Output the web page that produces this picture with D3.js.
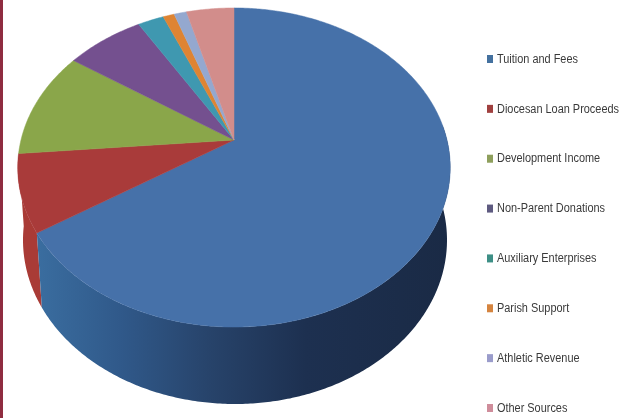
<!DOCTYPE html>
<html>
<head>
<meta charset="utf-8">
<script src="https://cdn.jsdelivr.net/npm/d3@7"></script>
<style>
  html, body { margin: 0; padding: 0; background: #fff; }
  svg { display: block; }
  .pie { filter: blur(0.5px); }
  .legend-text { font-family: "Liberation Sans", sans-serif; font-size: 13.5px; fill: #3a3a3a; filter: blur(0.45px); }
</style>
</head>
<body>
<div id="chart"></div>
<script>
var svgWidth = 633;
var svgHeight = 418;

// Estimated share of revenue (percent)
var categories = ["Tuition and Fees", "Diocesan Loan Proceeds", "Development Income", "Non-Parent Donations",
  "Auxiliary Enterprises", "Parish Support", "Athletic Revenue", "Other Sources"];
var shares = [65.9, 7.8, 10.9, 6.9, 2.3, 1.0, 1.1, 4.2];
var topColors = ["#4671a9", "#a93b3a", "#8aa64a", "#74508f", "#3f98b0", "#de8433", "#94a8cf", "#d28d8b"];
var legendColors = ["#44719f", "#a0403f", "#8e9f5c", "#5e5a80", "#3d8f86", "#d5843f", "#9a9ccb", "#cf8d9b"];

// Tilted disc: the apex sits above the ellipse centre because of perspective
var apex = { x: 234, y: 140 };
var radiusX = 213, persp = 0.1724, foreshort = 154.8;
var topEllipse = { cx: 234, cy: 167, rx: 216, ry: 160 };
var lowEllipse = { cx: 235, cy: 240, rx: 212, ry: 164 };

function project(angle) {
  var u = Math.sin(angle), v = -Math.cos(angle);
  var w = 1 - persp * v;
  return [apex.x + radiusX * u / w, apex.y + foreshort * v / w];
}

// same rim point on the lower edge of the wall
function projectLow(angle) {
  var p = project(angle);
  var t = Math.atan2((p[1] - topEllipse.cy) / topEllipse.ry, (p[0] - topEllipse.cx) / topEllipse.rx);
  return [lowEllipse.cx + lowEllipse.rx * Math.cos(t), lowEllipse.cy + lowEllipse.ry * Math.sin(t)];
}

var pie = d3.pie().sort(null).value(function(d) { return d; });
var arcs = pie(shares);
var line = d3.line();

function rim(start, end, fn) {
  return d3.range(start, end, 0.01).concat([end]).map(fn);
}

var svg = d3.select("#chart")
  .append("svg")
  .attr("width", svgWidth)
  .attr("height", svgHeight)
  .style("background", "#fff");

// red strip down the left edge of the page
svg.append("rect")
  .attr("width", 3)
  .attr("height", svgHeight)
  .attr("fill", "#8f2c40");

// Wall shading runs left to right across the disc
var defs = svg.append("defs");
var shade = defs.append("linearGradient")
  .attr("id", "blueWall")
  .attr("gradientUnits", "userSpaceOnUse")
  .attr("x1", 38).attr("x2", 450)
  .attr("y1", 0).attr("y2", 0);
[[0, "#3a6d9f"], [0.2, "#30598a"], [0.42, "#27436a"], [0.65, "#1d3050"], [1, "#1a2a45"]].forEach(function(s) {
  shade.append("stop").attr("offset", s[0]).attr("stop-color", s[1]);
});

var pieGroup = svg.append("g").attr("class", "pie");

function addWall(start, end, fill) {
  var pts = rim(start, end, project).concat(rim(start, end, projectLow).reverse());
  pieGroup.append("path")
    .attr("d", line(pts) + "Z")
    .attr("fill", fill);
}
addWall(arcs[1].startAngle, arcs[1].endAngle, "#a93b36");
addWall(Math.PI / 2 - 0.1, arcs[0].endAngle, "url(#blueWall)");

// Top face
pieGroup.selectAll("path.slice")
  .data(arcs)
  .enter()
  .append("path")
  .attr("class", "slice")
  .attr("d", function(d) {
    return line([[apex.x, apex.y]].concat(rim(d.startAngle, d.endAngle, project))) + "Z";
  })
  .attr("fill", function(d, i) { return topColors[i]; })
  .attr("stroke", function(d, i) { return topColors[i]; })
  .attr("stroke-width", 0.5);

// Legend
var legendY = d3.scalePoint()
  .domain(categories)
  .range([59, 408]);

var legend = svg.append("g").selectAll("g")
  .data(categories)
  .enter()
  .append("g")
  .attr("transform", function(d) { return "translate(487," + legendY(d) + ")"; });

legend.append("rect")
  .attr("y", -4)
  .attr("width", 6)
  .attr("height", 8)
  .attr("fill", function(d, i) { return legendColors[i]; });

// no narrow face installed, so the text is squeezed horizontally
legend.append("text")
  .attr("class", "legend-text")
  .attr("transform", "translate(10,-1) scale(0.81,1)")
  .attr("dy", "0.35em")
  .text(function(d) { return d; });
</script>
</body>
</html>
